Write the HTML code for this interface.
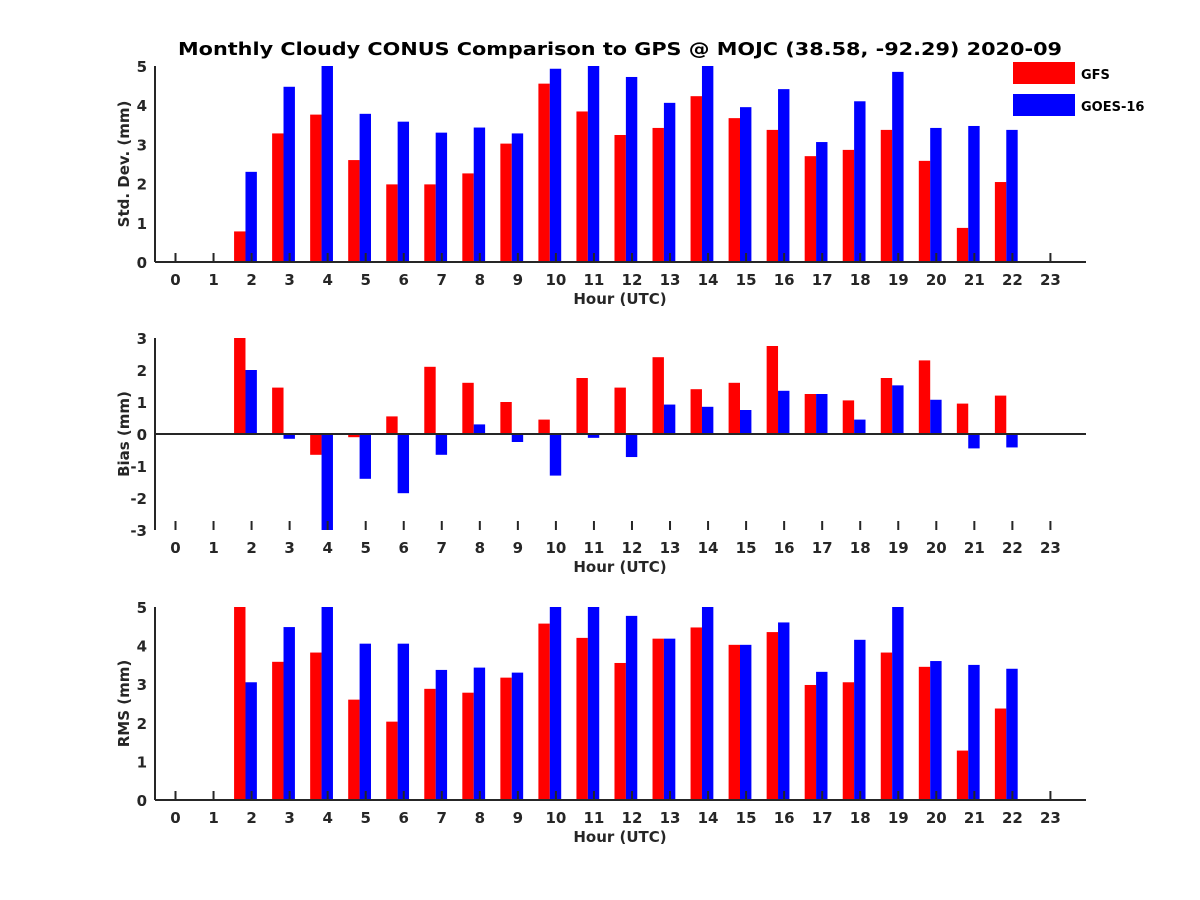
<!DOCTYPE html>
<html><head><meta charset="utf-8"><style>
html,body{margin:0;padding:0;background:#fff;}
svg{display:block;font-family:"DejaVu Sans","Liberation Sans",sans-serif;}
</style></head><body>
<svg id="chart" width="1200" height="900" viewBox="0 0 1200 900">
<text x="620" y="55" text-anchor="middle" font-size="18" font-weight="bold" fill="#000" textLength="884" lengthAdjust="spacingAndGlyphs">Monthly Cloudy CONUS Comparison to GPS @ MOJC (38.58, -92.29) 2020-09</text>
<g>
<rect x="1013" y="62" width="62" height="22" fill="#ff0000"/>
<text x="1081" y="79" font-size="13" font-weight="bold" fill="#000">GFS</text>
<rect x="1013" y="94" width="62" height="22" fill="#0000ff"/>
<text x="1081" y="111" font-size="13" font-weight="bold" fill="#000">GOES-16</text>
</g>
</svg>
<script>
const hours = [0,1,2,3,4,5,6,7,8,9,10,11,12,13,14,15,16,17,18,19,20,21,22,23];
const stdGFS = [null,null,0.78,3.28,3.76,2.6,1.98,1.98,2.26,3.02,4.55,3.84,3.24,3.42,4.23,3.67,3.37,2.70,2.86,3.37,2.58,0.87,2.04,null];
const stdGOES = [null,null,2.3,4.47,5.2,3.78,3.58,3.3,3.43,3.28,4.93,5.2,4.72,4.06,5.2,3.95,4.41,3.06,4.1,4.85,3.42,3.47,3.37,null];
const biasGFS = [null,null,3.0,1.45,-0.65,-0.1,0.55,2.1,1.6,1.0,0.45,1.75,1.45,2.4,1.4,1.6,2.75,1.25,1.05,1.75,2.3,0.95,1.2,null];
const biasGOES = [null,null,2.0,-0.15,-3.5,-1.4,-1.85,-0.65,0.3,-0.25,-1.3,-0.12,-0.72,0.92,0.85,0.75,1.35,1.25,0.45,1.52,1.07,-0.45,-0.42,null];
const rmsGFS = [null,null,5.2,3.58,3.82,2.6,2.03,2.88,2.78,3.17,4.57,4.2,3.55,4.18,4.47,4.02,4.35,2.98,3.05,3.82,3.45,1.28,2.37,null];
const rmsGOES = [null,null,3.05,4.48,5.2,4.05,4.05,3.37,3.43,3.3,5.2,5.2,4.77,4.18,5.2,4.02,4.6,3.32,4.15,5.2,3.6,3.5,3.4,null];
const stdTicks = [0,1,2,3,4,5];
const biasTicks = [-3,-2,-1,0,1,2,3];
const rmsTicks = [0,1,2,3,4,5];

const NS = "http://www.w3.org/2000/svg";
const svg = document.getElementById('chart');
const X0 = 155, X1 = 1086;
function xs(h){ return 175.5 + h * 38.04; }
function mk(tag, attrs, parent){
  const e = document.createElementNS(NS, tag);
  for (const k in attrs) e.setAttribute(k, attrs[k]);
  (parent || svg).appendChild(e);
  return e;
}
function panel(name, top, bottom, ymin, ymax, ticks, gfs, goes, ylabel){
  const g = mk('g', {});
  
  
  const ys = v => bottom - (v - ymin) / (ymax - ymin) * (bottom - top);
  const clip = v => Math.max(ymin, Math.min(ymax, v));
  const base = ys(Math.max(ymin, Math.min(ymax, 0)));
  const bw = 11.4;
  hours.forEach((h, i) => {
    [[gfs, '#ff0000', -17.5, 'gfs'], [goes, '#0000ff', -6.1, 'goes']].forEach(([arr, col, off, nm]) => {
      const v = arr[i];
      if (v === null) return;
      const y = ys(clip(v));
      const r = mk('rect', {x: xs(h) + off, y: Math.min(y, base), width: bw, height: Math.abs(base - y), fill: col}, g);
      
      
    });
  });
  const ax = mk('line', {x1: X0, x2: X1, y1: base, y2: base, stroke: '#262626', 'stroke-width': 2}, g);
  
  
  const ay = mk('line', {x1: X0, x2: X0, y1: top, y2: bottom, stroke: '#262626', 'stroke-width': 2}, g);
  
  
  hours.forEach(h => {
    const t = mk('line', {x1: xs(h), x2: xs(h), y1: bottom, y2: bottom - 9, stroke: '#262626', 'stroke-width': 2}, g);
    
    
    const tl = mk('text', {x: xs(h), y: bottom + 23, 'text-anchor': 'middle', 'font-size': 15, 'font-weight': 'bold', fill: '#262626'}, g);
    tl.textContent = h;
    
    
  });
  ticks.forEach(v => {
    const tl = mk('text', {x: X0 - 8, y: ys(v) + 6, 'text-anchor': 'end', 'font-size': 15, 'font-weight': 'bold', fill: '#262626'}, g);
    tl.textContent = v;
    
    
  });
  const xt = mk('text', {x: 620, y: bottom + 42, 'text-anchor': 'middle', 'font-size': 15, 'font-weight': 'bold', fill: '#262626'}, g);
  xt.textContent = 'Hour (UTC)';
  
  
  const cy = (top + bottom) / 2;
  const yt = mk('text', {x: 129, y: cy, 'text-anchor': 'middle', 'font-size': 15, 'font-weight': 'bold', fill: '#262626', transform: 'rotate(-90 129 ' + cy + ')'}, g);
  yt.textContent = ylabel;
  
  
}
panel('std-dev', 66, 262, 0, 5, stdTicks, stdGFS, stdGOES, 'Std. Dev. (mm)');
panel('bias', 338, 530, -3, 3, biasTicks, biasGFS, biasGOES, 'Bias (mm)');
panel('rms', 607, 800, 0, 5, rmsTicks, rmsGFS, rmsGOES, 'RMS (mm)');
</script>
</body></html>
